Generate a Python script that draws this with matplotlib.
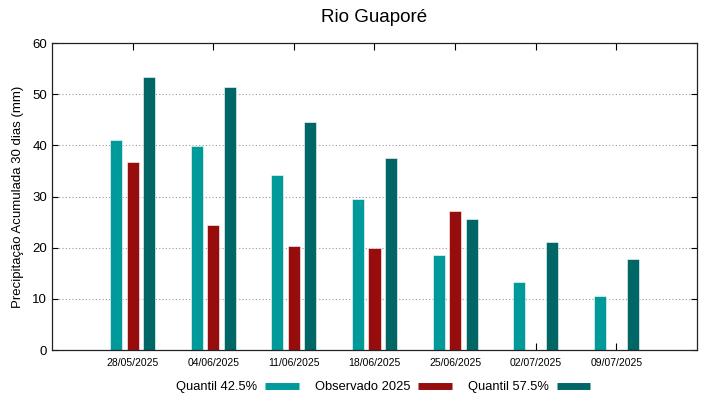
import numpy as np
import matplotlib
matplotlib.use("Agg")
import matplotlib.pyplot as plt
from matplotlib.lines import Line2D

plt.rcParams['font.family'] = ['Liberation Sans', 'DejaVu Sans']

dates = ["28/05/2025", "04/06/2025", "11/06/2025", "18/06/2025",
         "25/06/2025", "02/07/2025", "09/07/2025"]
q425 = [41.0, 39.8, 34.3, 29.6, 18.6, 13.3, 10.5]
obs2025 = [36.8, 24.5, 20.3, 20.0, 27.2, np.nan, np.nan]
q575 = [53.3, 51.5, 44.6, 37.5, 25.6, 21.2, 17.8]
labels = ["Quantil 42.5%", "Observado 2025", "Quantil 57.5%"]
colors = ["#009a9a", "#970d0d", "#006666"]

fig = plt.figure(figsize=(7.19, 3.99), dpi=100)
ax = fig.add_axes([0.0723, 0.1228, 0.8971, 0.7694])

x = np.arange(len(dates))
w = 0.15
off = 0.205
for vals, dx, c in zip([q425, obs2025, q575], [-off, 0, off], colors):
    ax.bar(x + dx, vals, width=w, color=c, edgecolor='white', linewidth=0.4, zorder=2)

ax.set_xlim(-1, 7)
ax.set_ylim(0, 60)
ax.set_xticks(x)
ax.set_xticklabels(dates, fontsize=7.5)
ax.set_yticks(np.arange(0, 61, 10))
ax.tick_params(axis='y', labelsize=9.5, direction='in', length=4, right=True, left=True, width=0.8)
ax.tick_params(axis='x', direction='in', length=5, top=True, bottom=True, width=0.8, pad=6)
ax.set_axisbelow(True)
for yv in range(10, 60, 10):
    ax.axhline(yv, color='#999999', linestyle=(0, (1, 2)), linewidth=0.8, zorder=0)
for s in ax.spines.values():
    s.set_linewidth(0.9)
    s.set_color('#222222')
ax.set_ylabel("Precipitação Acumulada 30 dias (mm)", fontsize=9.5, labelpad=6)
fig.suptitle("Rio Guaporé", fontsize=13.5, x=0.5205, y=0.978)

handles = [Line2D([0], [0], color=c, linewidth=5, solid_capstyle='butt') for c in colors]
fig.legend(handles, labels, loc='center', bbox_to_anchor=(0.533, 0.030), ncol=3,
           frameon=False, markerfirst=False, fontsize=9.3, handlelength=2.6,
           columnspacing=1.25, handletextpad=0.6)

fig.savefig("out.png", dpi=100)
